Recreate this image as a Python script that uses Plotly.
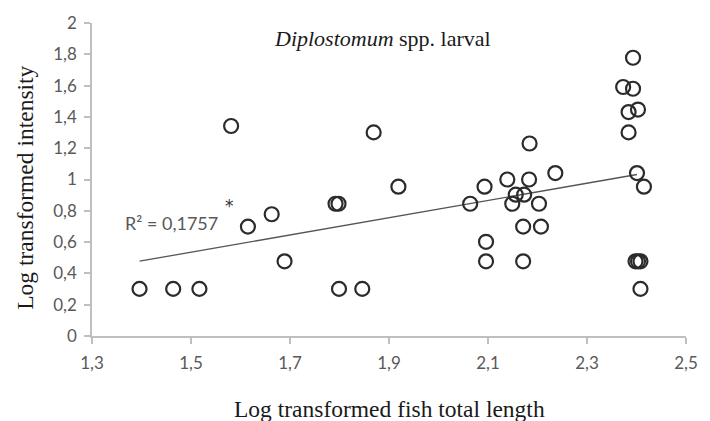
import plotly.graph_objects as go

# Data
fish_length = [1.581, 1.615, 1.663, 1.689, 1.396, 1.464, 1.517,
               1.869, 1.919, 1.792, 1.798, 1.799, 1.846, 2.064,
               2.184, 2.236, 2.093, 2.139, 2.183, 2.156, 2.173, 2.149, 2.203,
               2.171, 2.207, 2.096, 2.096, 2.171,
               2.393, 2.373, 2.393, 2.384, 2.403, 2.384, 2.401, 2.415,
               2.398, 2.403, 2.408, 2.408]
intensity = [1.342, 0.699, 0.778, 0.477, 0.301, 0.301, 0.301,
             1.301, 0.954, 0.845, 0.845, 0.301, 0.301, 0.845,
             1.230, 1.041, 0.954, 1.000, 1.000, 0.903, 0.903, 0.845, 0.845,
             0.699, 0.699, 0.602, 0.477, 0.477,
             1.778, 1.591, 1.580, 1.431, 1.447, 1.301, 1.041, 0.954,
             0.477, 0.477, 0.477, 0.301]

trend_x = [1.396, 2.401]
trend_y = [0.478, 1.032]

x_ticks = [1.3, 1.5, 1.7, 1.9, 2.1, 2.3, 2.5]
y_ticks = [0, 0.2, 0.4, 0.6, 0.8, 1.0, 1.2, 1.4, 1.6, 1.8, 2.0]

title_text = "<i>Diplostomum</i> spp. larval"
x_title = "Log transformed fish total length"
y_title = "Log transformed intensity"
r2_text = "R² = 0,1757"

W, H = 710, 421
L, R, T, B = 92, 17, 21, 85
PW, PH = W - L - R, H - T - B


def px(xp):
    return (xp - L) / PW


def py(yp):
    return (H - B - yp) / PH


fig = go.Figure()
fig.add_trace(go.Scatter(
    x=trend_x, y=trend_y, mode="lines",
    line=dict(color="#555555", width=1.3), hoverinfo="skip", showlegend=False))
fig.add_trace(go.Scatter(
    x=fish_length, y=intensity, mode="markers",
    marker=dict(symbol="circle-open", size=14, color="#2b2b2b",
                line=dict(width=2.2, color="#2b2b2b")),
    showlegend=False))

axis_font = dict(family="Lato, Open Sans, sans-serif", size=17, color="#595959")
common = dict(showgrid=False, zeroline=False, showline=True, linecolor="#bfbfbf",
              linewidth=1.5, ticks="outside", ticklen=6, tickcolor="#bfbfbf",
              tickwidth=1.5, tickfont=axis_font, fixedrange=True,
              ticklabeloverflow="allow")
fig.update_xaxes(range=[1.3, 2.5], tickvals=x_ticks, ticklabelstandoff=5, **common)
fig.update_yaxes(range=[0, 2], tickvals=y_ticks, ticklabelstandoff=4, **common)

serif = dict(family="Liberation Serif, DejaVu Serif, serif", size=23.5, color="#1a1a1a")
fig.update_layout(
    width=W, height=H,
    margin=dict(l=L, r=R, t=T, b=B),
    paper_bgcolor="white", plot_bgcolor="white",
    separators=",.",
    annotations=[
        dict(text=title_text, x=px(386), y=py(37), xref="paper", yref="paper",
             xanchor="center", yanchor="middle", showarrow=False,
             font=dict(serif, size=22)),
        dict(text=x_title, x=px(393), y=py(409), xref="paper", yref="paper",
             xanchor="center", yanchor="middle", showarrow=False, font=serif),
        dict(text=y_title, x=px(24), y=py(187), xref="paper", yref="paper",
             xanchor="center", yanchor="middle", textangle=-90,
             showarrow=False, font=serif),
        dict(text=r2_text, x=1.46, y=0.725, xref="x", yref="y", showarrow=False,
             font=dict(family="Lato, Open Sans, sans-serif", size=18, color="#595959")),
        dict(text="*", x=1.577, y=0.83, xref="x", yref="y", showarrow=False,
             font=dict(family="DejaVu Sans, sans-serif", size=17, color="#333333")),
    ],
)

fig.write_html("out.html", config={"displayModeBar": False},
               post_script="document.body.style.margin='0';document.body.style.padding='0';")
